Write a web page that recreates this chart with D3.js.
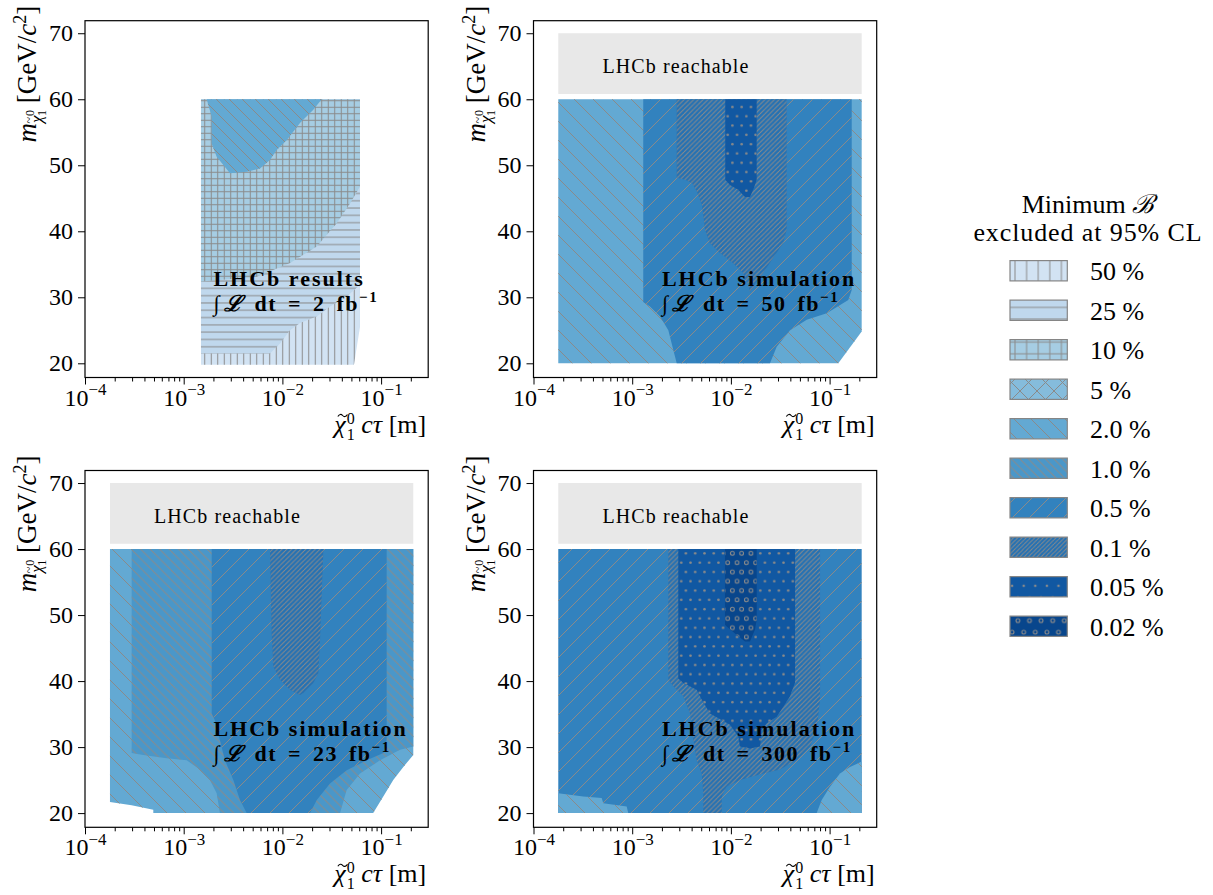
<!DOCTYPE html>
<html><head><meta charset="utf-8">
<script src="https://cdn.jsdelivr.net/npm/d3@7"></script>
<style>
body{margin:0;background:#fff}
svg{display:block;font-family:"Liberation Serif","DejaVu Serif",serif}
</style>
</head><body>
<svg id="c" width="1213" height="895"></svg>
<script>
// ---------------- data ----------------
const levelLabels = ["50 %","25 %","10 %","5 %","2.0 %","1.0 %","0.5 %","0.1 %","0.05 %","0.02 %"];
const levelColors = ["#d2e3f3","#c0d8ed","#a6cde3","#85bcdc","#63a9d3","#4a97c9","#3282be","#2471b3","#1158a2","#08468c"];
const levelHatches = ["|","-","+","x","\\","\\\\","/","////",".","o"];

const xTickExps = [-4,-3,-2,-1];
const yTickValues = [20,30,40,50,60,70];
const xDomain = [1e-4, 0.3];
const yDomain = [17.85, 71.9];

const panelTitles = ["LHCb results","LHCb simulation","LHCb simulation","LHCb simulation"];
const lumiValues = ["2","50","23","300"];
const reachable = [false,true,true,true];
const reachMass = [60.8,70];

// contour polygons: [log10(ctau / m), mass GeV]
// panel 1 (LHCb results, 2 fb-1)
const p1_50 = [[-2.825,60],[-1.214,60],[-1.214,25.5],[-1.275,19.8],[-2.825,19.8]];
const p1_25 = [[-2.825,60],[-1.214,60],[-1.214,31.9],[-1.349,30.1],[-1.517,28.6],[-1.652,27.1],[-1.822,26.1],[-1.923,25.0],[-2.024,23.0],[-2.126,21.5],[-2.825,21.5]];
const p1_10 = [[-2.825,60],[-1.214,60],[-1.214,46.8],[-1.315,44.2],[-1.450,41.2],[-1.652,37.7],[-1.923,35.2],[-2.260,33.1],[-2.825,32.4]];
const p1_2 = [[-2.767,60],[-1.602,60],[-1.687,58.4],[-1.822,56.4],[-1.957,53.8],[-2.058,52.3],[-2.126,50.8],[-2.227,49.5],[-2.362,49.0],[-2.531,48.8],[-2.666,51.3],[-2.717,53.3],[-2.717,57.4]];
// panel 2 (50 fb-1)
const p2_2 = [[-3.749,60],[-0.675,60],[-0.675,24.8],[-0.912,20],[-3.749,20]];
const p2_05 = [[-2.888,60],[-0.776,60],[-0.776,31.1],[-0.811,29.6],[-1.029,27.6],[-1.232,26.6],[-1.401,25.0],[-1.536,22.5],[-1.604,20],[-2.549,20],[-2.600,23.0],[-2.634,25.0],[-2.718,27.1],[-2.820,28.6],[-2.888,29.3]];
const p2_01 = [[-2.549,60],[-1.435,60],[-1.435,40.2],[-1.472,38.2],[-1.553,36.4],[-1.655,34.1],[-1.756,31.9],[-1.807,30.8],[-1.827,31.9],[-1.878,33.7],[-1.979,35.2],[-2.110,36.7],[-2.212,38.2],[-2.262,40.2],[-2.293,44.0],[-2.344,46.0],[-2.394,47.3],[-2.465,47.8],[-2.549,48.1]];
const p2_005 = [[-2.057,60],[-1.739,60],[-1.739,47.8],[-1.766,46.6],[-1.807,45.2],[-1.857,45.2],[-1.928,46.3],[-2.009,47.0],[-2.057,47.8]];
// panel 3 (23 fb-1)
const p3_2 = [[-3.747,60],[-0.674,60],[-0.674,28.8],[-0.775,27.0],[-0.877,25.0],[-0.978,22.5],[-1.080,20],[-3.308,20],[-3.308,20.5],[-3.528,21.2],[-3.747,21.7]];
const p3_1 = [[-3.527,60],[-0.674,60],[-0.674,30.1],[-0.809,29.6],[-1.011,28.0],[-1.214,26.0],[-1.349,23.5],[-1.416,20],[-2.633,20],[-2.666,23.0],[-2.734,25.0],[-2.835,26.6],[-2.970,28.0],[-3.172,28.3],[-3.409,28.8],[-3.527,29.1]];
const p3_05 = [[-2.716,60],[-0.944,60],[-0.944,31.1],[-0.977,29.1],[-1.146,28.0],[-1.349,26.5],[-1.518,24.5],[-1.652,22.0],[-1.720,20],[-2.362,20],[-2.430,22.0],[-2.497,25.0],[-2.582,28.0],[-2.632,31.0],[-2.683,34.0],[-2.716,35.1]];
const p3_01 = [[-2.126,60],[-1.585,60],[-1.619,46.2],[-1.636,41.2],[-1.687,39.7],[-1.788,38.2],[-1.822,37.9],[-1.923,38.7],[-2.024,40.2],[-2.092,42.2],[-2.109,47.2]];
// panel 4 (300 fb-1)
const p4_05 = [[-3.749,60],[-0.675,60],[-0.675,20],[-3.749,20]];
const p4_2a = [[-3.749,23.0],[-3.496,22.5],[-3.309,22.3],[-3.293,21.5],[-3.056,21.0],[-3.040,20],[-3.749,20]];
const p4_2b = [[-0.675,27.8],[-0.794,27.0],[-0.895,26.0],[-0.996,24.0],[-1.080,22.0],[-1.131,20],[-0.675,20]];
const p4_01 = [[-2.634,60],[-1.097,60],[-1.097,37.2],[-1.131,32.6],[-1.199,30.1],[-1.333,28.0],[-1.503,26.6],[-1.672,26.0],[-1.908,25.0],[-2.043,24.0],[-2.093,22.5],[-2.093,20],[-2.280,20],[-2.280,23.0],[-2.296,26.0],[-2.347,28.0],[-2.381,31.1],[-2.414,35.1],[-2.482,37.7],[-2.584,39.2],[-2.634,40.2]];
const p4_005 = [[-2.533,60],[-1.350,60],[-1.350,39.8],[-1.401,37.7],[-1.469,36.1],[-1.536,34.6],[-1.637,33.6],[-1.688,32.6],[-1.705,30.1],[-1.806,29.8],[-1.908,30.1],[-1.925,31.6],[-2.009,33.4],[-2.212,35.1],[-2.296,37.2],[-2.347,38.7],[-2.482,39.7],[-2.533,40.4]];
const p4_002 = [[-2.060,60],[-1.739,60],[-1.739,49.3],[-1.756,47.8],[-1.807,46.0],[-1.857,46.0],[-1.958,47.2],[-2.060,48.5]];

// [level index, polygon] drawn in order
const panelRegions = [
  [[0,p1_50],[1,p1_25],[2,p1_10],[4,p1_2]],
  [[4,p2_2],[6,p2_05],[7,p2_01],[8,p2_005]],
  [[4,p3_2],[5,p3_1],[6,p3_05],[7,p3_01]],
  [[6,p4_05],[4,p4_2a],[4,p4_2b],[7,p4_01],[8,p4_005],[9,p4_002]]
];

// ---------------- layout ----------------
const PW = 343.2;
const layout = [
  {left:85, top:20.7, bottom:377.5},
  {left:533.5, top:20.7, bottom:377.5},
  {left:85, top:470.5, bottom:827.3},
  {left:533.5, top:470.5, bottom:827.3}
];
const hatchColor = "#8a8a8a";
const panelSpacing = {"|":6.5,"-":7.3,"+":6.5,"x":19,"\\":19,"\\\\":9.5,"/":19,"////":4.75,".":9.3,"o":9.3};
const legendSpacing = {"|":11.6,"-":11.6,"+":11.6,"x":17,"\\":17,"\\\\":8.5,"/":17,"////":4.25,".":11.6,"o":11.6};
const firstPanelSpacing = {"\\":13};

const svg = d3.select("#c");
const defs = svg.append("defs");

function addPattern(id, h, s){
  let w = s, ht = s;
  if (h === "." || h === "o") ht = 2*s;
  const p = defs.append("pattern").attr("id", id).attr("patternUnits","userSpaceOnUse")
    .attr("width", w).attr("height", ht);
  const ln = (x1,y1,x2,y2)=>p.append("line").attr("x1",x1).attr("y1",y1).attr("x2",x2).attr("y2",y2)
    .attr("stroke",hatchColor).attr("stroke-width",1);
  if (h === "|") ln(s/2,0,s/2,s);
  if (h === "-") ln(0,s/2,s,s/2);
  if (h === "+") { ln(s/2,0,s/2,s); ln(0,s/2,s,s/2); }
  if (h === "\\" || h === "\\\\" || h === "x") [-s,0,s].forEach(o=>ln(o,0,o+s,s));
  if (h === "/" || h === "////" || h === "x") [-s,0,s].forEach(o=>ln(o,s,o+s,0));
  if (h === ".") {
    [[s/4,s/2],[3*s/4,3*s/2]].forEach(c=>p.append("circle").attr("cx",c[0]).attr("cy",c[1]).attr("r",1.3).attr("fill",hatchColor));
  }
  if (h === "o") {
    [[s/4,s/2],[3*s/4,3*s/2]].forEach(c=>p.append("circle").attr("cx",c[0]).attr("cy",c[1]).attr("r",1.9)
      .attr("fill","none").attr("stroke",hatchColor).attr("stroke-width",1.1));
  }
}
levelHatches.forEach((h,i)=>{
  addPattern("hp"+i, h, panelSpacing[h]);
  addPattern("hl"+i, h, legendSpacing[h]);
  addPattern("hq"+i, h, firstPanelSpacing[h] || panelSpacing[h]);
});

function drawPanel(pi){
  const L = layout[pi];
  const x = d3.scaleLog().domain(xDomain).range([L.left, L.left+PW]);
  const y = d3.scaleLinear().domain(yDomain).range([L.bottom, L.top]);
  const g = svg.append("g");
  const line = d3.line().x(d=>x(Math.pow(10,d[0]))).y(d=>y(d[1]));
  const regs = panelRegions[pi];

  if (reachable[pi]) {
    const hull = regs[0][1];
    const ex = d3.extent(hull, d=>d[0]);
    g.append("rect").attr("x", x(Math.pow(10,ex[0]))).attr("y", y(reachMass[1]))
      .attr("width", x(Math.pow(10,ex[1])) - x(Math.pow(10,ex[0])))
      .attr("height", y(reachMass[0]) - y(reachMass[1])).attr("fill","#e8e8e8");
    g.append("text").attr("x", x(5e-4)).attr("y", y(65)+7).attr("font-size",20)
      .attr("letter-spacing","1.1px").text("LHCb reachable");
  }
  regs.forEach(([lv, pts])=>{
    const d = line(pts) + "Z";
    g.append("path").attr("d", d).attr("fill", levelColors[lv]);
    g.append("path").attr("d", d).attr("fill", pi === 0 ? `url(#hq${lv})` : `url(#hp${lv})`);
  });

  // annotation
  const tx = x(2e-3);
  g.append("text").attr("x", tx).attr("y", y(30)-11).attr("font-size",22).attr("font-weight","bold")
    .attr("letter-spacing","2px").text(panelTitles[pi]);
  const t2 = g.append("text").attr("x", tx).attr("y", y(30)+14).attr("font-size",22).attr("font-weight","bold")
    .attr("letter-spacing","1.5px").attr("word-spacing","4px");
  t2.append("tspan").attr("font-weight","normal").text("∫");
  t2.append("tspan").attr("font-style","italic").attr("dx",3).text("ℒ");
  t2.append("tspan").text(" dt = " + lumiValues[pi] + " fb");
  t2.append("tspan").attr("font-size",15).attr("dy",-9).text("−1");

  // frame
  g.append("rect").attr("x", L.left).attr("y", L.top).attr("width", PW).attr("height", L.bottom-L.top)
    .attr("fill","none").attr("stroke","#000").attr("stroke-width",1.2);

  // x axis
  const majors = xTickExps.map(e=>Math.pow(10,e));
  const minors = [];
  xTickExps.forEach(e=>{ for(let k=2;k<=9;k++){ const v=k*Math.pow(10,e); if (v<=xDomain[1]) minors.push(v);} });
  const axM = g.append("g").attr("transform",`translate(0,${L.bottom})`)
    .call(d3.axisBottom(x).tickValues(majors).tickSize(7).tickPadding(4).tickFormat(()=>""));
  const axm = g.append("g").attr("transform",`translate(0,${L.bottom})`)
    .call(d3.axisBottom(x).tickValues(minors).tickSize(4).tickFormat(()=>""));
  [axM, axm].forEach(a=>{ a.select(".domain").remove(); a.attr("font-family",null).attr("font-size",24); });
  axm.selectAll(".tick text").remove();
  axM.selectAll(".tick text").each(function(d){
    const e = Math.round(Math.log10(d));
    const t = d3.select(this);
    t.append("tspan").text("10");
    t.append("tspan").attr("font-size",17).attr("dy","-0.62em").text("−"+Math.abs(e));
  });
  // y axis
  const ay = g.append("g").attr("transform",`translate(${L.left},0)`)
    .call(d3.axisLeft(y).tickValues(yTickValues).tickSize(7).tickPadding(5));
  ay.select(".domain").remove();
  ay.attr("font-family",null).attr("font-size",24);
  g.selectAll(".tick line").attr("stroke","#000");
  g.selectAll(".tick text").attr("fill","#000");

  // x label
  const xlBase = L.bottom + 55;
  const xl = g.append("text").attr("x", L.left+PW-2).attr("y", xlBase)
    .attr("text-anchor","end").attr("font-size",26);
  xl.append("tspan").attr("font-style","italic").text("χ");
  xl.append("tspan").attr("font-size",16).attr("dx",1).attr("dy",-9).text("0");
  xl.append("tspan").attr("font-size",16).attr("dx",-8).attr("dy",16).text("1");
  xl.append("tspan").attr("dy",-7).text(" ");
  xl.append("tspan").attr("font-style","italic").text("cτ");
  xl.append("tspan").text(" [m]");
  const cx0 = xl.node().getStartPositionOfChar(0).x;
  const tX = cx0 + 3.5, tY = xlBase - 17;
  g.append("path").attr("d", `M${tX},${tY+1} c1.6,-2.6 3.4,-2.6 4.8,-1 s3.2,1.6 4.8,-1`)
    .attr("fill","none").attr("stroke","#000").attr("stroke-width",1.1);

  // y label
  const yl = g.append("text").attr("transform",`translate(${L.left-49},${L.top-15}) rotate(-90)`)
    .attr("text-anchor","end").attr("font-size",27);
  yl.append("tspan").attr("font-style","italic").text("m");
  yl.append("tspan").attr("font-style","italic").attr("font-size",17).attr("dy",6).text("χ");
  yl.append("tspan").attr("font-size",12).attr("dx",-8).attr("dy",-9).text("~");
  yl.append("tspan").attr("font-size",12).attr("dx",1).attr("dy",1).text("0");
  yl.append("tspan").attr("font-size",12).attr("dx",-6).attr("dy",12).text("1");
  yl.append("tspan").attr("dy",-10).text(" [GeV/");
  yl.append("tspan").attr("font-style","italic").text("c");
  yl.append("tspan").attr("font-size",18).attr("dy",-10).text("2");
  yl.append("tspan").attr("dy",10).text("]");
}
[0,1,2,3].forEach(drawPanel);

// ---------------- legend ----------------
const lg = svg.append("g");
const t1 = lg.append("text").attr("x",1088).attr("y",212.5).attr("text-anchor","middle").attr("font-size",26);
t1.append("tspan").text("Minimum ");
t1.append("tspan").attr("font-style","italic").text("ℬ");
lg.append("text").attr("x",1088).attr("y",240.7).attr("text-anchor","middle").attr("font-size",26)
  .attr("letter-spacing","0.9px").text("excluded at 95% CL");
const legY = d3.scaleLinear().domain([0, levelLabels.length-1]).range([270.8, 626.3]);
levelLabels.forEach((lab,i)=>{
  const cy = legY(i);
  lg.append("rect").attr("x",1010).attr("y",cy-10.2).attr("width",57.3).attr("height",20.3).attr("fill",levelColors[i]);
  lg.append("rect").attr("x",1010).attr("y",cy-10.2).attr("width",57.3).attr("height",20.3)
    .attr("fill",`url(#hl${i})`).attr("stroke","#858585").attr("stroke-width",1.2);
  lg.append("text").attr("x",1090).attr("y",cy+9.5).attr("font-size",26).text(lab);
});
</script>
</body></html>
